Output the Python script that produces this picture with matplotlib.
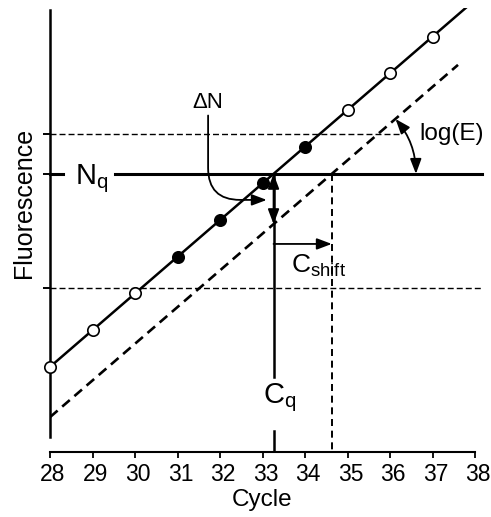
import matplotlib
matplotlib.use('Agg')
import matplotlib.pyplot as plt
from matplotlib.patches import FancyArrowPatch
from matplotlib.transforms import ScaledTranslation
import numpy as np

plt.rcParams['font.family'] = ['Liberation Sans', 'DejaVu Sans']

# amplification data (log fluorescence, arbitrary units)
cycles = [28, 29, 30, 31, 32, 33, 34, 35, 36, 37]
log_fluor = [0.0, 1.0, 2.0, 3.0, 4.0, 5.0, 6.0, 7.0, 8.0, 9.0]
filled = [False, False, False, True, True, True, True, False, False, False]
line_end = 37.83
shifted_end = 37.6
c_shift = 1.37
n_q = 5.26
upper_level = 6.35
lower_level = 2.15
x_ticks = [28, 29, 30, 31, 32, 33, 34, 35, 36, 37, 38]

slope, icept = np.polyfit(cycles, log_fluor, 1)
c_q = (n_q - icept) / slope
c_q2 = c_q + c_shift

fig = plt.figure(figsize=(4.91, 5.17), dpi=100)
ax = fig.add_axes([50 / 491, 65 / 517, 425 / 491, 444 / 517])
ax.set_xlim(28, 38)
ax.set_ylim(-2.32, 9.78)

# solid and shifted lines
xs = np.array([28, line_end])
ax.plot(xs, slope * xs + icept, color='black', lw=1.8, zorder=3)
xs2 = np.array([28, shifted_end])
ax.plot(xs2, slope * (xs2 - c_shift) + icept, color='black', lw=1.9,
        linestyle=(0, (3.8, 2.3)), zorder=3)

for c, f, fl in zip(cycles, log_fluor, filled):
    ax.plot(c, f, 'o', ms=8.2, mec='black', mew=1.2,
            mfc='black' if fl else 'white', zorder=4, clip_on=False)

# threshold lines
ax.plot([28, 28.31], [n_q, n_q], color='black', lw=2.2, clip_on=False)
ax.plot([29.53, 38.16], [n_q, n_q], color='black', lw=2.2, clip_on=False)
ax.plot([28, 36.24], [upper_level, upper_level], color='black', lw=1.0,
        linestyle=(0, (4.3, 2.2)))
ax.plot([28, 38.16], [lower_level, lower_level], color='black', lw=1.0,
        linestyle=(0, (4.3, 2.2)), clip_on=False)

# Cq marker line
ax.plot([c_q, c_q], [n_q, -0.27], color='black', lw=1.8)
ax.plot([c_q, c_q], [-1.74, -2.32], color='black', lw=1.8)
ax.plot([c_q2, c_q2], [n_q, -2.32], color='black', lw=1.4,
        linestyle=(0, (3.6, 2.4)))

astyle = '-|>,head_length=0.9,head_width=0.34'
dstyle = '<|-|>,head_length=0.9,head_width=0.34'

# delta N
ax.add_patch(FancyArrowPatch((c_q, n_q - slope * c_shift), (c_q, n_q),
                             arrowstyle=dstyle, mutation_scale=10, lw=1.3,
                             color='black', shrinkA=0, shrinkB=0, zorder=5))
ax.add_patch(FancyArrowPatch((31.72, 6.85), (33.1, 4.55),
                             arrowstyle=astyle, mutation_scale=10, lw=1.3,
                             color='black', shrinkA=0, shrinkB=0,
                             connectionstyle='angle,angleA=90,angleB=0,rad=32'))
ax.text(31.72, 7.2, 'ΔN', ha='center', va='center', fontsize=16)

# C shift
ax.add_patch(FancyArrowPatch((c_q, 3.35), (c_q2, 3.35),
                             arrowstyle=astyle, mutation_scale=10, lw=1.3,
                             color='black', shrinkA=0, shrinkB=0))
ax.text(33.67, 2.75, r'$\mathregular{C_{shift}}$', ha='left', va='center', fontsize=19)

# log(E) angle
ax.add_patch(FancyArrowPatch((36.61, n_q), (36.13, 6.755),
                             arrowstyle=dstyle, mutation_scale=10, lw=1.3,
                             color='black', shrinkA=0, shrinkB=0,
                             connectionstyle='arc3,rad=0.18', clip_on=False))
ax.text(36.69, upper_level, 'log(E)', ha='left', va='center', fontsize=17.5)

ax.text(28.58, n_q - 0.12, r'$\mathregular{N_q}$', ha='left', va='center', fontsize=21)
ax.text(33.02, -0.85, r'$\mathregular{C_q}$', ha='left', va='center', fontsize=21)

# axes
for s in ['top', 'right']:
    ax.spines[s].set_visible(False)
ax.spines['left'].set_bounds(-1.91, 9.73)
ax.spines['left'].set_linewidth(1.8)
ax.spines['bottom'].set_linewidth(1.5)
ax.set_xticks(x_ticks)
ax.set_yticks([lower_level, n_q, upper_level])
ax.set_yticklabels([])
ax.tick_params(axis='x', direction='out', length=4, width=1.3, labelsize=16.5, pad=4)
ax.tick_params(axis='y', direction='out', length=5, width=1.4)
shift = ScaledTranslation(3 / 100, 0, fig.dpi_scale_trans)
for lab in ax.get_xticklabels():
    lab.set_transform(lab.get_transform() + shift)
fig.text(262 / 491, 1 - 500 / 517, 'Cycle', ha='center', va='center', fontsize=17.5)
fig.text(24 / 491, 1 - 203 / 517, 'Fluorescence', rotation=90,
         ha='center', va='center', fontsize=18)

fig.savefig('out.png', dpi=100)
